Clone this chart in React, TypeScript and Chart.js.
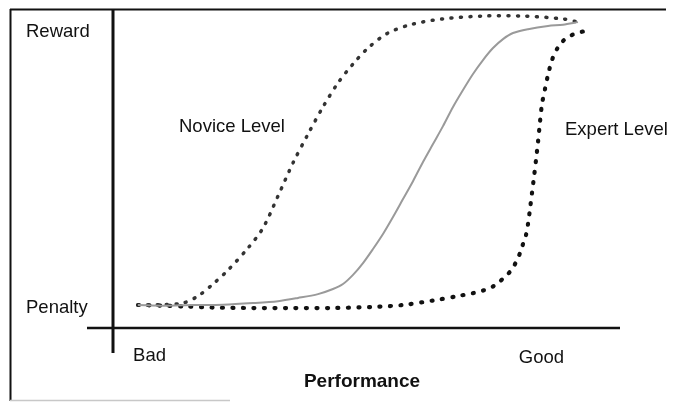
import React, { useEffect, useRef } from 'react';
import { Chart, registerables } from 'chart.js';

Chart.register(...registerables);

// Performance (x) and reward (y) values
const noviceX = [5, 10, 14, 17, 20, 23, 27, 30, 33, 36, 39, 42, 45, 48, 51, 55, 60, 66, 74, 82, 90, 93];
const noviceY = [7.2, 7.3, 7.8, 10.0, 13.75, 18.1, 25.0, 31.25, 41.25, 51.6, 60.6, 69.1, 76.6, 82.5, 87.5, 92.2, 95, 96.6, 97.5, 97.5, 96.6, 95.6];

const standardX = [5, 10, 16, 22, 28, 33, 37, 41, 44, 46, 48, 50, 52, 54, 56, 58, 60, 62, 64, 66, 68, 70, 72, 74, 76, 78, 80, 83, 87, 90, 93];
const standardY = [7.2, 7.0, 7.2, 7.3, 7.8, 8.4, 9.4, 10.6, 12.2, 13.75, 16.6, 20.3, 24.7, 29.4, 34.7, 40.3, 45.9, 51.9, 57.5, 63.1, 69.1, 74.4, 79.4, 83.75, 87.5, 90.3, 92.2, 93.4, 94.4, 94.8, 95.6];

const expertX = [5, 10, 15, 20, 28, 36, 44, 52, 58, 64, 69, 72, 74, 76, 77.2, 78.6, 79.8, 80.6, 81.4, 82, 82.6, 83, 83.4, 83.8, 84.2, 84.6, 85, 85.4, 85.8, 86.4, 87, 87.8, 88.8, 90, 91.4, 92.8, 94.4];
const expertY = [7.2, 7.0, 6.7, 6.4, 6.25, 6.25, 6.25, 6.6, 7.2, 8.6, 10.0, 10.9, 11.7, 13.0, 14.4, 16.25, 18.4, 20.6, 23.4, 26.25, 29.1, 32.5, 37.2, 42.2, 47.2, 52.5, 58.1, 64.4, 70, 74.7, 79.1, 83.75, 87.2, 89.7, 91.25, 92.2, 92.8];

// Text labels
const rewardLabels = ['Penalty', 'Reward'];
const performanceLabels = ['Bad', 'Good'];
const seriesLabels = ['Novice Level', 'Expert Level'];
const axisTitle = 'Performance';

// Label placement (data units)
const rewardLabelPos = [{ x: -17.4, y: 6.25 }, { x: -17.4, y: 92.5 }];
const performanceLabelPos = [{ x: 7.3, y: -8.75 }, { x: 85.7, y: -9.4 }];
const seriesLabelPos = [{ x: 13.2, y: 62.8 }, { x: 90.4, y: 62 }];
const axisTitlePos = { x: 49.8, y: -16.9 };

const FONT = '"Liberation Sans", Arial, sans-serif';

export default function App() {
  const ref = useRef<HTMLCanvasElement>(null);

  useEffect(() => {
    document.body.style.margin = '0';
    const canvas = ref.current;
    if (!canvas) return;

    const pts = (xs: number[], ys: number[]) => xs.map((x, i) => ({ x, y: ys[i] }));

    const decorPlugin = {
      id: 'decor',
      beforeDatasetsDraw(chart: any) {
        const { ctx, chartArea, scales } = chart;
        const sx = scales.x;
        const sy = scales.y;
        ctx.save();
        // outer frame
        ctx.strokeStyle = '#111';
        ctx.lineWidth = 2;
        ctx.beginPath();
        ctx.moveTo(10, 9.5);
        ctx.lineTo(666, 9.5);
        ctx.moveTo(10.5, 9);
        ctx.lineTo(10.5, 401);
        ctx.stroke();
        ctx.strokeStyle = '#c8c8c8';
        ctx.lineWidth = 1.5;
        ctx.beginPath();
        ctx.moveTo(10, 400.5);
        ctx.lineTo(230, 400.5);
        ctx.stroke();

        // axes
        const x0 = sx.getPixelForValue(0);
        const y0 = sy.getPixelForValue(0);
        ctx.strokeStyle = '#111';
        ctx.lineWidth = 3;
        ctx.beginPath();
        ctx.moveTo(x0, chartArea.top);
        ctx.lineTo(x0, chartArea.bottom);
        ctx.stroke();
        ctx.lineWidth = 2.5;
        ctx.beginPath();
        ctx.moveTo(chartArea.left, y0);
        ctx.lineTo(chartArea.right, y0);
        ctx.stroke();

        // texts
        ctx.fillStyle = '#111';
        ctx.textBaseline = 'middle';
        ctx.font = `18.5px ${FONT}`;
        ctx.textAlign = 'left';
        rewardLabels.forEach((t, i) => {
          ctx.fillText(t, sx.getPixelForValue(rewardLabelPos[i].x), sy.getPixelForValue(rewardLabelPos[i].y));
        });
        seriesLabels.forEach((t, i) => {
          ctx.fillText(t, sx.getPixelForValue(seriesLabelPos[i].x), sy.getPixelForValue(seriesLabelPos[i].y));
        });
        ctx.textAlign = 'center';
        performanceLabels.forEach((t, i) => {
          ctx.fillText(t, sx.getPixelForValue(performanceLabelPos[i].x), sy.getPixelForValue(performanceLabelPos[i].y));
        });
        ctx.font = `bold 19px ${FONT}`;
        ctx.fillText(axisTitle, sx.getPixelForValue(axisTitlePos.x), sy.getPixelForValue(axisTitlePos.y));
        ctx.restore();
      },
    };

    const chart = new Chart(canvas, {
      type: 'line',
      data: {
        datasets: [
          {
            label: 'Standard',
            data: pts(standardX, standardY),
            borderColor: '#9a9a9a',
            borderWidth: 2,
            pointRadius: 0,
            tension: 0.3,
            fill: false,
          },
          {
            label: seriesLabels[0],
            data: pts(noviceX, noviceY),
            borderColor: '#333',
            borderWidth: 3.5,
            borderDash: [1, 8.5],
            borderCapStyle: 'round',
            pointRadius: 0,
            tension: 0.3,
            fill: false,
          },
          {
            label: seriesLabels[1],
            data: pts(expertX, expertY),
            borderColor: '#111',
            borderWidth: 4.2,
            borderDash: [1, 9.5],
            borderCapStyle: 'round',
            pointRadius: 0,
            tension: 0.3,
            fill: false,
          },
        ],
      },
      options: {
        animation: false,
        responsive: false,
        layout: { padding: { left: 87, right: 53, top: 9, bottom: 49 } },
        scales: {
          x: { type: 'linear', min: -5.2, max: 101.4, display: false },
          y: { type: 'linear', min: -7.8, max: 99.7, display: false },
        },
        plugins: { legend: { display: false }, tooltip: { enabled: false } },
      },
      plugins: [decorPlugin],
    } as any);

    return () => chart.destroy();
  }, []);

  return <canvas ref={ref} width={673} height={402} style={{ display: 'block' }} />;
}
